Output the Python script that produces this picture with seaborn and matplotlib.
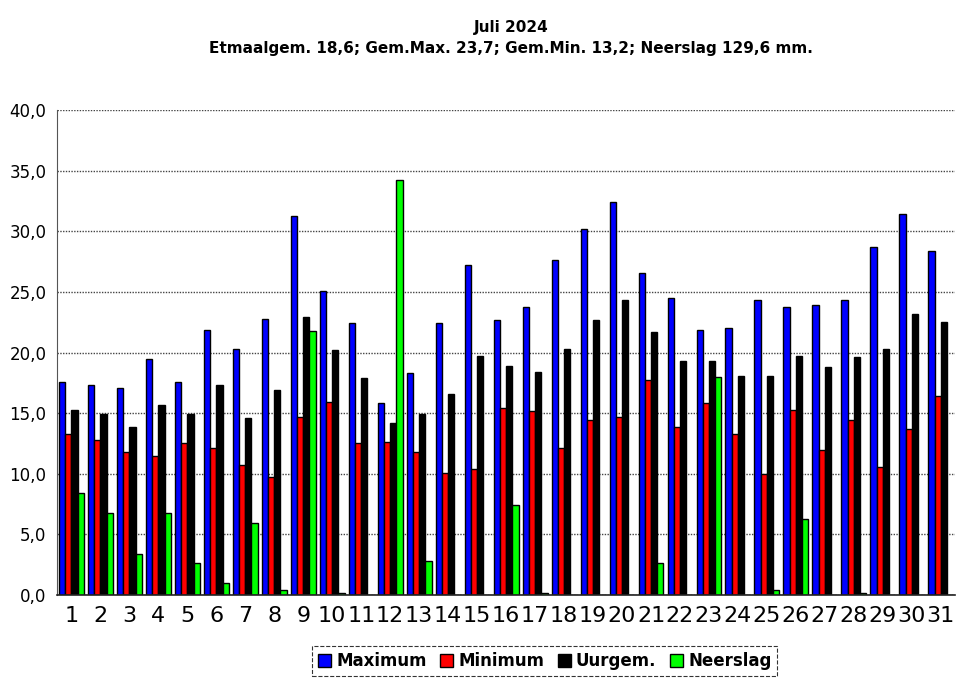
import matplotlib
matplotlib.use("Agg")
import matplotlib.pyplot as plt
import seaborn as sns
import pandas as pd
from matplotlib.ticker import MultipleLocator, FuncFormatter

# ── Data (juli 2024) ────────────────────────────────────────────────────────
dagen = list(range(1, 32))
maximum = [17.6, 17.3, 17.1, 19.5, 17.6, 21.9, 20.3, 22.8, 31.3, 25.1,
           22.4, 15.8, 18.3, 22.4, 27.2, 22.7, 23.8, 27.6, 30.2, 32.4,
           26.6, 24.5, 21.9, 22.0, 24.3, 23.8, 23.9, 24.3, 28.7, 31.4, 28.4]
minimum = [13.3, 12.8, 11.8, 11.5, 12.5, 12.1, 10.7, 9.7, 14.7, 15.9,
           12.5, 12.6, 11.8, 10.1, 10.4, 15.4, 15.2, 12.1, 14.4, 14.7,
           17.7, 13.9, 15.8, 13.3, 10.0, 15.3, 12.0, 14.4, 10.6, 13.7, 16.4]
uurgem = [15.3, 14.9, 13.9, 15.7, 14.9, 17.3, 14.6, 16.9, 22.9, 20.2,
          17.9, 14.2, 14.9, 16.6, 19.7, 18.9, 18.4, 20.3, 22.7, 24.3,
          21.7, 19.3, 19.3, 18.1, 18.1, 19.7, 18.8, 19.6, 20.3, 23.2, 22.5]
neerslag = [8.4, 6.8, 3.4, 6.8, 2.6, 1.0, 5.9, 0.4, 21.8, 0.2,
            0.0, 34.2, 2.8, 0.0, 0.0, 7.4, 0.2, 0.0, 0.0, 0.0,
            2.6, 0.0, 18.0, 0.0, 0.4, 6.3, 0.0, 0.2, 0.0, 0.0, 0.0]

reeksen = ["Maximum", "Minimum", "Uurgem.", "Neerslag"]
kleuren = ["#0000FF", "#FF0000", "#000000", "#00FF00"]

titel = ("Juli 2024\n"
         "Etmaalgem. 18,6; Gem.Max. 23,7; Gem.Min. 13,2; Neerslag 129,6 mm.")

# ── Long-form table for seaborn ─────────────────────────────────────────────
df = pd.DataFrame({
    "dag": dagen * 4,
    "waarde": maximum + minimum + uurgem + neerslag,
    "reeks": [r for r in reeksen for _ in dagen],
})

sns.set_style("white")
plt.rcParams["font.family"] = ["DejaVu Sans"]
plt.rcParams["text.color"] = "black"
plt.rcParams["xtick.color"] = "black"
plt.rcParams["ytick.color"] = "black"

fig = plt.figure(figsize=(9.64, 6.8), dpi=100)
ax = fig.add_axes([0.059, 0.125, 0.932, 0.713])

sns.barplot(
    data=df, x="dag", y="waarde", hue="reeks",
    hue_order=reeksen, palette=kleuren, saturation=1,
    width=0.86, edgecolor="black", linewidth=1.0,
    errorbar=None, ax=ax, legend=False,
)

# ── Axes styling ────────────────────────────────────────────────────────────
ax.set_ylim(0, 40)
ax.set_xlim(-0.5, len(dagen) - 0.5)
ax.yaxis.set_major_locator(MultipleLocator(5))
ax.yaxis.set_major_formatter(FuncFormatter(lambda v, _: f"{v:.1f}".replace(".", ",")))
ax.grid(axis="y", color="#444444", linestyle=(0, (1, 1)), linewidth=1.0)
ax.set_axisbelow(True)

ax.set_xlabel("")
ax.set_ylabel("")
ax.tick_params(axis="x", length=0, labelsize=16, pad=8)
ax.tick_params(axis="y", length=4, labelsize=12, direction="out")
ax.set_xticks([i + 0.5 for i in range(len(dagen) - 1)], minor=True)
ax.tick_params(axis="x", which="minor", length=4, direction="out")

for side in ("top", "right"):
    ax.spines[side].set_visible(False)
ax.spines["left"].set_color("#555555")
ax.spines["bottom"].set_color("#222222")
ax.spines["bottom"].set_linewidth(1.2)

fig.suptitle(titel, x=0.53, y=0.97, fontsize=11, fontweight="bold",
             linespacing=1.45)

# ── Legend ──────────────────────────────────────────────────────────────────
handles = [plt.Rectangle((0, 0), 1, 1, facecolor=c, edgecolor="black", linewidth=1)
           for c in kleuren]
leg = fig.legend(
    handles, reeksen, loc="center", bbox_to_anchor=(0.565, 0.028), ncol=4,
    frameon=True, fancybox=False, handlelength=0.8, handleheight=0.8,
    handletextpad=0.3, columnspacing=0.8, borderpad=0.35,
    prop={"weight": "bold", "size": 12},
)
leg.get_frame().set_edgecolor("black")
leg.get_frame().set_linestyle("--")
leg.get_frame().set_linewidth(0.8)

fig.savefig("out.png", dpi=100)
